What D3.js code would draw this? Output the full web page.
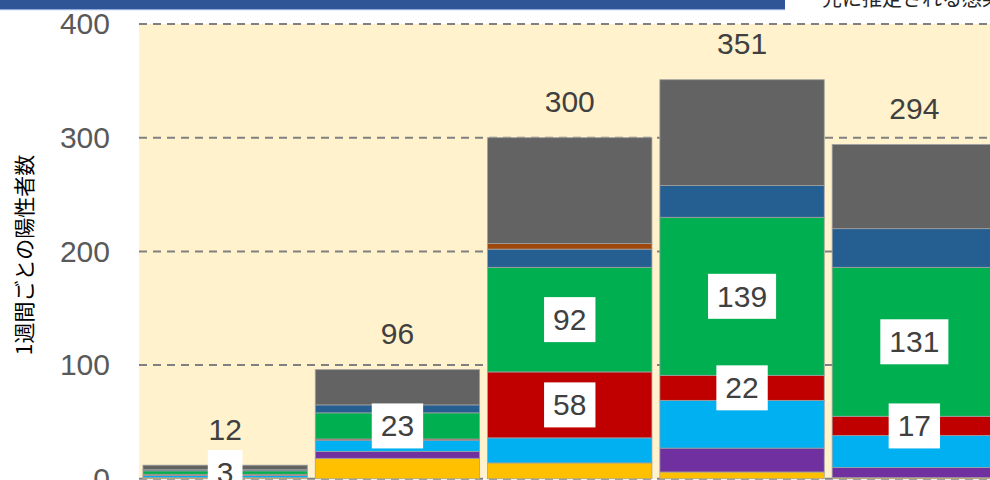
<!DOCTYPE html>
<html>
<head>
<meta charset="utf-8">
<title>1週間ごとの陽性者数</title>
<script src="https://d3js.org/d3.v7.min.js"></script>
<style>
  body { margin: 0; background: #fff; }
  svg { display: block; font-family: "Liberation Sans", Arial, "Noto Sans CJK JP", sans-serif; }
</style>
</head>
<body>
<div id="chart"></div>
<script>
// weeks (x labels are cut off in the reference)
var weeks = ["第1週", "第2週", "第3週", "第4週", "第5週"];

// series, bottom to top
var seriesNames = ["系列1", "系列2", "系列3", "系列4", "系列5", "系列6", "系列7", "系列8"];
var seriesColors = ["#FFC000", "#7030A0", "#00B0F0", "#C00000", "#00B050", "#255E91", "#9E480E", "#636363"];

var s1 = [1, 18, 14, 6, 1];
var s2 = [0, 6, 0, 21, 9];
var s3 = [2, 10, 22, 42, 28];
var s4 = [1, 1, 58, 22, 17];
var s5 = [3, 23, 92, 139, 131];
var s6 = [1, 7, 16, 28, 34];
var s7 = [0, 0, 5, 0, 0];
var s8 = [4, 31, 93, 93, 74];
var seriesValues = [s1, s2, s3, s4, s5, s6, s7, s8];

// which series carry a boxed value label, and for which weeks
var labelled = { "系列4": [false, false, true, true, true], "系列5": [true, true, true, true, true] };

var yTicks = [0, 100, 200, 300, 400];

var width = 990, height = 480;
var svg = d3.select("#chart").append("svg")
  .attr("width", width)
  .attr("height", height);

// build rows for d3.stack
var rows = weeks.map(function(w, i) {
  var r = { week: w };
  seriesNames.forEach(function(n, j) { r[n] = seriesValues[j][i]; });
  return r;
});
var totals = weeks.map(function(w, i) {
  return d3.sum(seriesValues, function(s) { return s[i]; });
});

var x = d3.scaleBand()
  .domain(weeks)
  .range([139, 1000.5])
  .paddingInner(0.046)
  .paddingOuter(0.023);

var y = d3.scaleLinear()
  .domain([0, 400])
  .range([478.8, 24]);

// top banner
svg.append("rect").attr("x", 0).attr("y", 0).attr("width", 785).attr("height", 9).attr("fill", "#2F5597");
svg.append("rect").attr("x", 0).attr("y", 9).attr("width", 785).attr("height", 1.2).attr("fill", "#8FAADC");
svg.append("text")
  .attr("x", 822).attr("y", 6)
  .attr("font-size", 20)
  .attr("fill", "#262626")
  .style("font-family", "'Noto Sans CJK JP', sans-serif")
  .text("先に推定される感染日");

// plot background
svg.append("rect")
  .attr("x", 139).attr("y", y(400))
  .attr("width", width - 139).attr("height", y(0) - y(400))
  .attr("fill", "#FFF2CC");

// gridlines
svg.append("g").selectAll("line")
  .data(yTicks)
  .enter().append("line")
  .attr("x1", 139).attr("x2", width)
  .attr("y1", function(d) { return y(d); })
  .attr("y2", function(d) { return y(d); })
  .attr("stroke", "#808080")
  .attr("stroke-width", 2)
  .attr("stroke-dasharray", "8,6");

// y axis labels
var yAxis = d3.axisLeft(y).tickValues(yTicks).tickSize(0).tickPadding(0);
var gy = svg.append("g").attr("transform", "translate(110,0)").call(yAxis);
gy.select(".domain").remove();
gy.selectAll("text")
  .attr("font-size", 30)
  .attr("fill", "#595959")
  .style("font-family", "'Liberation Sans', Arial, sans-serif");

// y axis title
svg.append("text")
  .attr("transform", "translate(23,255) rotate(-90)")
  .attr("text-anchor", "middle")
  .attr("dominant-baseline", "central")
  .attr("font-size", 21)
  .attr("fill", "#000")
  .style("font-family", "'Noto Sans CJK JP', sans-serif")
  .text("1週間ごとの陽性者数");

// stacked bars
var stack = d3.stack().keys(seriesNames);
var layers = stack(rows);

var gLayers = svg.append("g").selectAll("g")
  .data(layers)
  .enter().append("g")
  .attr("fill", function(d, i) { return seriesColors[i]; });

gLayers.selectAll("rect")
  .data(function(d) { return d; })
  .enter().append("rect")
  .attr("x", function(d) { return x(d.data.week); })
  .attr("width", x.bandwidth())
  .attr("y", function(d) { return y(d[1]); })
  .attr("height", function(d) { return y(d[0]) - y(d[1]); })
  .attr("stroke", "#a0a0a0")
  .attr("stroke-width", 0.8);

// boxed value labels
var labelData = [];
layers.forEach(function(layer) {
  var flags = labelled[layer.key];
  if (!flags) return;
  layer.forEach(function(d, i) {
    if (flags[i]) labelData.push({ week: d.data.week, v: d[1] - d[0], mid: (d[0] + d[1]) / 2 });
  });
});

var gLab = svg.append("g").selectAll("g")
  .data(labelData)
  .enter().append("g")
  .attr("transform", function(d) {
    return "translate(" + (x(d.week) + x.bandwidth() / 2) + "," + y(d.mid) + ")";
  });

gLab.append("text")
  .attr("text-anchor", "middle")
  .attr("dominant-baseline", "central")
  .attr("font-size", 30)
  .attr("fill", "#404040")
  .text(function(d) { return d.v; })
  .each(function() {
    var bb = this.getBBox();
    d3.select(this.parentNode).insert("rect", "text")
      .attr("x", bb.x - 9)
      .attr("y", -22.5)
      .attr("width", bb.width + 18)
      .attr("height", 45)
      .attr("fill", "#fff");
  });

// totals above bars
svg.append("g").selectAll("text")
  .data(weeks)
  .enter().append("text")
  .attr("x", function(d) { return x(d) + x.bandwidth() / 2; })
  .attr("y", function(d, i) { return y(totals[i]) - 36; })
  .attr("text-anchor", "middle")
  .attr("dominant-baseline", "central")
  .attr("font-size", 30)
  .attr("fill", "#404040")
  .text(function(d, i) { return totals[i]; });
</script>
</body>
</html>
